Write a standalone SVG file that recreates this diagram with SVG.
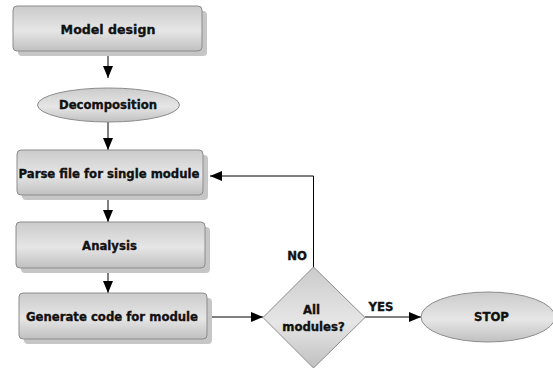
<svg xmlns="http://www.w3.org/2000/svg" width="553" height="368" viewBox="0 0 553 368">
<defs>
<linearGradient id="g" x1="0" y1="0" x2="0" y2="1">
<stop offset="0" stop-color="#cbcbcb"/>
<stop offset="0.55" stop-color="#e6e6e6"/>
<stop offset="1" stop-color="#c0c0c0"/>
</linearGradient>
<marker id="ah" viewBox="0 0 12 10" refX="12" refY="5" markerWidth="12" markerHeight="10" markerUnits="userSpaceOnUse" orient="auto">
<path d="M0,0 L12,5 L0,10 Z" fill="#000"/>
</marker>
<style>
.box{fill:url(#g);stroke:#8c8c8c;stroke-width:1}
.sh{fill:#c6c6c6}
.ell{fill:url(#g);stroke:#8c8c8c;stroke-width:1}
.t{font-family:"DejaVu Sans",Verdana,sans-serif;font-weight:bold;font-size:11.7px;fill:#111;stroke:#111;stroke-width:0.35px;text-anchor:middle}
.c{fill:none;stroke:#000;stroke-width:1;marker-end:url(#ah)}
</style>
</defs>
<rect width="553" height="368" fill="#fff"/>
<g id="connectors">
<line class="c" x1="108" y1="51" x2="108" y2="78"/>
<line class="c" x1="108" y1="122" x2="108" y2="150"/>
<line class="c" x1="108" y1="195" x2="108" y2="222"/>
<line class="c" x1="108" y1="268" x2="108" y2="293"/>
<line class="c" x1="207" y1="317" x2="263" y2="317"/>
<line class="c" x1="365" y1="317" x2="421" y2="317"/>
<polyline class="c" points="313.5,268 313.5,176 210,176"/>
</g>
<g id="model-design">
<rect class="sh" x="18" y="11" width="189" height="45" rx="4"/>
<rect class="box" x="13" y="6" width="189" height="45" rx="4"/>
<text class="t" x="108" y="34" style="font-size:12.6px">Model design</text>
</g>
<g id="decomposition">
<ellipse class="ell" cx="108.5" cy="105" rx="71" ry="17"/>
<text class="t" x="108" y="108.5">Decomposition</text>
</g>
<g id="parse-file">
<rect class="sh" x="22" y="155" width="186" height="45" rx="4"/>
<rect class="box" x="17" y="150" width="186" height="45" rx="4"/>
<text class="t" x="109" y="177.5">Parse file for single module</text>
</g>
<g id="analysis">
<rect class="sh" x="21" y="227" width="189" height="46" rx="4"/>
<rect class="box" x="16" y="222" width="189" height="46" rx="4"/>
<text class="t" x="109.5" y="249.5">Analysis</text>
</g>
<g id="generate-code">
<rect class="sh" x="24" y="298" width="188" height="46" rx="4"/>
<rect class="box" x="19" y="293" width="188" height="46" rx="4"/>
<text class="t" x="112" y="320.5">Generate code for module</text>
</g>
<g id="all-modules">
<polygon class="box" points="313.5,267 365,317.5 313.5,368 263,317.5"/>
<text class="t" x="311.5" y="314">All</text>
<text class="t" x="313.5" y="331">modules?</text>
</g>
<g id="stop">
<ellipse class="ell" cx="488" cy="317" rx="67" ry="25"/>
<text class="t" x="491.5" y="321">STOP</text>
</g>
<g id="labels">
<text class="t" x="297" y="260">NO</text>
<text class="t" x="381" y="310.5">YES</text>
</g>
</svg>
